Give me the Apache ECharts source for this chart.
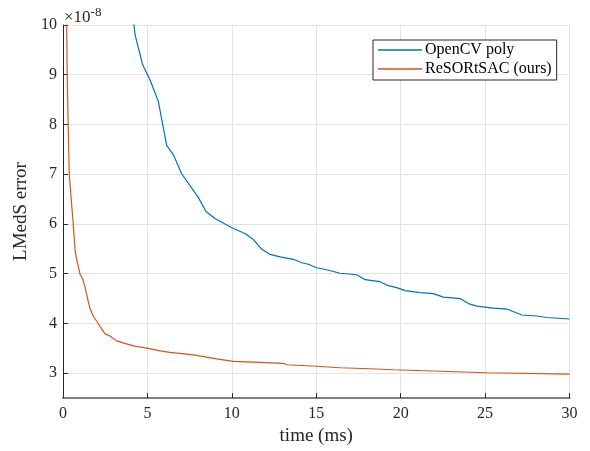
<!DOCTYPE html>
<html>
<head>
<meta charset="utf-8">
<script src="https://cdn.jsdelivr.net/npm/echarts@6/dist/echarts.min.js"></script>
<style>html,body{margin:0;padding:0;background:#fff;}#c{width:590px;height:451px;}</style>
</head>
<body>
<div id="c"></div>
<script>
const seriesNames = ['OpenCV poly', 'ReSORtSAC (ours)'];
const blueX = [4.05, 4.21, 4.27, 4.72, 5.15, 5.65, 6.14, 6.54, 7.03, 8.02, 8.47, 9.0, 10.09, 10.78, 11.27, 11.77, 12.26, 12.86, 13.64, 14.14, 14.53, 15.03, 15.62, 16.41, 17.4, 17.89, 18.78, 19.27, 19.77, 20.26, 21.15, 21.94, 22.53, 23.52, 24.01, 24.51, 25.49, 26.29, 27.17, 28.06, 28.66, 30];
const blueY = [10.3, 9.98, 9.80, 9.20, 8.90, 8.46, 7.58, 7.39, 7.01, 6.53, 6.25, 6.11, 5.91, 5.81, 5.69, 5.49, 5.39, 5.34, 5.29, 5.22, 5.19, 5.12, 5.08, 5.01, 4.98, 4.88, 4.84, 4.76, 4.72, 4.66, 4.62, 4.60, 4.53, 4.50, 4.40, 4.35, 4.31, 4.29, 4.17, 4.15, 4.12, 4.09];
const redX = [0.2, 0.22, 0.25, 0.31, 0.37, 0.51, 0.61, 0.71, 0.81, 1.01, 1.17, 1.30, 1.44, 1.60, 1.80, 2.03, 2.23, 2.49, 2.78, 3.18, 3.57, 4.16, 5.05, 5.75, 6.34, 7.72, 9.1, 10.09, 11.67, 13.05, 13.25, 15.03, 16.41, 18.19, 19.57, 22.33, 25.1, 30];
const redY = [10.3, 9.98, 8.96, 7.96, 7.0, 6.4, 5.99, 5.49, 5.29, 4.99, 4.89, 4.74, 4.52, 4.30, 4.14, 4.03, 3.92, 3.79, 3.75, 3.65, 3.61, 3.55, 3.50, 3.45, 3.42, 3.37, 3.29, 3.24, 3.22, 3.20, 3.17, 3.14, 3.11, 3.09, 3.07, 3.04, 3.01, 2.98];
const xTicks = [0, 5, 10, 15, 20, 25, 30];
const yTicks = [3, 4, 5, 6, 7, 8, 9, 10];

const font = 'Liberation Serif';
const txt = '#262626';
const chart = echarts.init(document.getElementById('c'), null, {renderer: 'canvas'});
const zip = (xs, ys) => xs.map((x, i) => [x, ys[i]]);
chart.setOption({
  animation: false,
  backgroundColor: '#fff',
  grid: {left: 63, right: 20.5, top: 25, bottom: 52, containLabel: false},
  xAxis: {
    type: 'value', min: 0, max: 30, interval: 5,
    name: 'time (ms)', nameLocation: 'middle', nameGap: 27,
    nameTextStyle: {fontFamily: font, fontSize: 19, color: txt},
    axisLine: {show: true, onZero: false, lineStyle: {color: '#808080', width: 2}},
    axisTick: {show: true, inside: true, length: 5, lineStyle: {color: '#262626'}},
    axisLabel: {fontFamily: font, fontSize: 16, color: txt, margin: 8},
    splitLine: {show: true, lineStyle: {color: '#e3e3e3', width: 1}}
  },
  yAxis: {
    type: 'value', min: 2.5, max: 10,
    name: 'LMedS error', nameLocation: 'middle', nameGap: 26,
    nameTextStyle: {fontFamily: font, fontSize: 19, color: txt},
    axisLine: {show: true, onZero: false, lineStyle: {color: '#262626', width: 1}},
    axisTick: {show: true, inside: true, length: 5, customValues: yTicks, lineStyle: {color: '#262626'}},
    axisLabel: {fontFamily: font, fontSize: 16, color: txt, margin: 6, customValues: yTicks},
    splitLine: {show: true, lineStyle: {color: '#e3e3e3', width: 1}}
  },
  legend: {
    orient: 'vertical', left: 373, top: 40,
    data: seriesNames,
    icon: 'rect',
    itemWidth: 44, itemHeight: 1.5, itemGap: 1,
    padding: [1, 5, 2, 5],
    borderColor: '#262626', borderWidth: 1, backgroundColor: '#fff',
    textStyle: {fontFamily: font, fontSize: 16, color: '#000', padding: [0, 0, 0, -2], lineHeight: 18}
  },
  graphic: [{
    type: 'text', left: 64, top: 6,
    style: {
      text: '{a|\u00d710}{b|-8}',
      rich: {
        a: {fontFamily: font, fontSize: 17, fill: txt, verticalAlign: 'bottom'},
        b: {fontFamily: font, fontSize: 13, fill: txt, verticalAlign: 'top', padding: [0, 0, 7, 0]}
      }
    }
  }],
  series: [
    {name: seriesNames[0], type: 'line', data: zip(blueX, blueY), symbol: 'none', clip: true,
     lineStyle: {color: '#0072BD', width: 1.2}, itemStyle: {color: '#0072BD'}},
    {name: seriesNames[1], type: 'line', data: zip(redX, redY), symbol: 'none', clip: true,
     lineStyle: {color: '#D95319', width: 1.2}, itemStyle: {color: '#D95319'}}
  ]
});
</script>
</body>
</html>
